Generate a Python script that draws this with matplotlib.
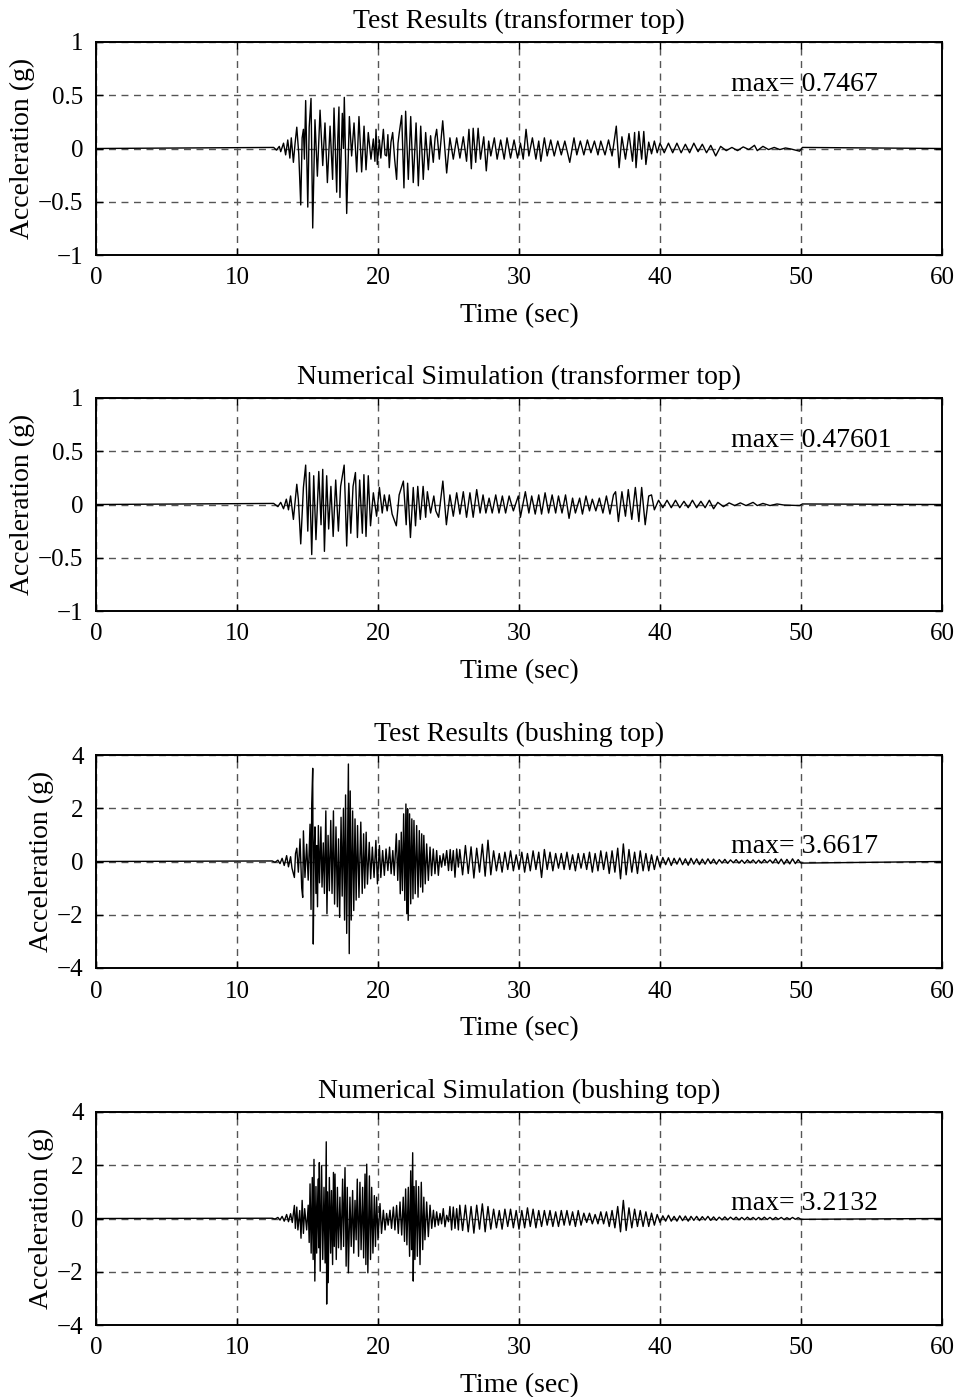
import numpy as np
import matplotlib
matplotlib.use('Agg')
import matplotlib.pyplot as plt

plt.rcParams['font.family'] = ['Liberation Serif', 'DejaVu Serif']

# ---- panel titles, peak labels, axis limits ----
titles = ['Test Results (transformer top)',
          'Numerical Simulation (transformer top)',
          'Test Results (bushing top)',
          'Numerical Simulation (bushing top)']
max_labels = ['max= 0.7467', 'max= 0.47601', 'max= 3.6617', 'max= 3.2132']
max_label_y = [0.6, 0.6, 0.56, 0.56]
y_limits = [(-1, 1), (-1, 1), (-4, 4), (-4, 4)]
y_ticks = [[-1, -0.5, 0, 0.5, 1], [-1, -0.5, 0, 0.5, 1],
           [-4, -2, 0, 2, 4], [-4, -2, 0, 2, 4]]
y_ticklabels = [['\u22121', '\u22120.5', '0', '0.5', '1'],
                ['\u22121', '\u22120.5', '0', '0.5', '1'],
                ['\u22124', '\u22122', '0', '2', '4'],
                ['\u22124', '\u22122', '0', '2', '4']]
x_ticks = [0, 10, 20, 30, 40, 50, 60]

# ---- transformer top, test: peak times (s) and accelerations (g) ----
tt_test_t = [12.6, 12.8, 13.0, 13.1, 13.3, 13.45, 13.6, 13.75, 13.85, 14.0, 14.12, 14.24, 14.38, 14.52,
             14.62, 14.71, 14.78, 14.87, 15.02, 15.12, 15.25, 15.37, 15.53, 15.7, 15.89, 16.08, 16.24,
             16.41, 16.6, 16.78, 16.88, 17.07, 17.15, 17.23, 17.3, 17.47, 17.55, 17.61, 17.78, 17.97,
             18.13, 18.3, 18.49, 18.65, 18.84, 19.01, 19.15, 19.31, 19.5, 19.67, 19.78, 19.86, 19.95,
             20.1, 20.2, 20.38, 20.5, 20.61, 20.7, 20.8, 20.92, 21.04, 21.18, 21.32, 21.42, 21.51, 21.68,
             21.84, 21.96, 22.15, 22.32, 22.5, 22.7, 22.86, 23.03, 23.21, 23.38, 23.57, 23.73, 23.92,
             24.05, 24.16, 24.35, 24.45, 24.59, 24.87, 25.1, 25.34, 25.58, 25.81, 26.05, 26.28, 26.45,
             26.62, 26.75, 26.93, 27.1, 27.27, 27.5, 27.68, 27.85, 28.0, 28.25, 28.45, 28.7, 28.95,
             29.15, 29.4, 29.65, 29.9, 30.1, 30.3, 30.5, 30.7, 30.95, 31.2, 31.4, 31.55, 31.8, 32.0,
             32.25, 32.5, 32.75, 33.0, 33.25, 33.6, 33.9, 34.1, 34.35, 34.6, 34.85, 35.1, 35.35, 35.6,
             35.8, 36.1, 36.35, 36.6, 36.9, 37.1, 37.3, 37.55, 37.8, 38.05, 38.2, 38.3, 38.5, 38.7,
             38.85, 39.0, 39.2, 39.4, 39.6, 39.8, 40.0, 40.3, 40.6, 40.9, 41.2, 41.5, 41.8, 42.1, 42.4,
             42.7, 43.0, 43.3, 43.6, 43.95, 44.3, 44.7, 45.1, 45.5, 45.9, 46.3, 46.7, 46.9, 47.3, 47.7,
             48.1, 48.5, 48.9, 49.3, 49.9, 50.1]
tt_test_a = [0.01, -0.015, 0.02, -0.03, 0.05, -0.06, 0.08, -0.09, 0.1, -0.13, 0.05, 0.2, -0.05, -0.53,
             0.1, 0.18, -0.1, 0.45, -0.55, 0.2, 0.47, -0.7467, 0.27, -0.26, 0.36, -0.16, 0.24,
             -0.32, 0.21, -0.29, 0.38, -0.41, 0.1, 0.39, -0.46, 0.33, 0.0, 0.48, -0.61, 0.30,
             -0.07, 0.24, -0.22, 0.30, -0.22, 0.21, -0.2, 0.15, -0.1, 0.09, -0.12, 0.18, -0.15,
             0.08, -0.09, 0.18, -0.06, -0.07, 0.13, -0.18, 0.06, 0.15, -0.1, -0.29, 0.05, 0.15, 0.31,
             -0.37, 0.35, -0.29, 0.30, -0.32, 0.24, -0.35, 0.21, -0.29, 0.15, -0.2, 0.12, -0.13,
             0.1, 0.18, -0.1, 0.05, 0.26, -0.23, 0.1, -0.1, 0.1, -0.09, 0.11, -0.12, 0.18,
             -0.19, 0.19, -0.13, 0.19, -0.1, 0.11, -0.21, 0.07, -0.07, 0.10, -0.1, 0.08, -0.1,
             0.1, -0.09, 0.08, -0.09, 0.05, -0.1, 0.18, -0.07, 0.1, -0.1, 0.07, -0.12, 0.1, -0.07,
             0.08, -0.07, 0.07, -0.06, 0.07, -0.13, 0.1, -0.06, 0.07, -0.06, 0.08, -0.04, 0.07, -0.06,
             0.07, -0.06, 0.08, -0.07, 0.21, -0.18, 0.11, -0.1, 0.14, -0.12, 0.15, -0.18, 0.16, -0.1,
             0.16, -0.15, 0.06, -0.05, 0.07, -0.04, 0.05, -0.04, 0.05, -0.04, 0.05, -0.04, 0.04, -0.04, 0.05,
             -0.03, 0.04, -0.04, 0.03, -0.07, 0.02, -0.02, 0.01, -0.02, 0.015, -0.01, 0.03, -0.02, 0.02, -0.01,
             0.01, -0.01, 0.005, -0.005, -0.025, 0.01]

# ---- transformer top, simulation ----
tt_sim_t = [12.6, 12.9, 13.1, 13.3, 13.5, 13.65, 13.8, 14.0, 14.15, 14.24, 14.35, 14.52, 14.71, 14.87,
            15.02, 15.14, 15.3, 15.44, 15.6, 15.8, 15.96, 16.08, 16.2, 16.36, 16.5, 16.66, 16.82, 17.0,
            17.19, 17.35, 17.6, 17.78, 17.93, 18.07, 18.23, 18.4, 18.54, 18.7, 18.89, 19.0, 19.15,
            19.31, 19.47, 19.67, 19.9, 20.1, 20.3, 20.45, 20.65, 20.8, 21.0, 21.3, 21.5, 21.8, 22.0,
            22.1, 22.3, 22.5, 22.66, 22.82, 23.0, 23.2, 23.38, 23.5, 23.73, 23.96, 24.1, 24.3, 24.6,
            24.85, 25.1, 25.34, 25.58, 25.81, 26.05, 26.28, 26.52, 26.75, 27.0, 27.24, 27.45, 27.65,
            27.88, 28.1, 28.35, 28.58, 28.82, 29.05, 29.3, 29.6, 29.95, 30.1, 30.45, 30.7, 30.9, 31.15,
            31.4, 31.6, 31.85, 32.1, 32.35, 32.6, 32.8, 33.05, 33.3, 33.55, 33.8, 34.0, 34.3, 34.5,
            34.75, 35.0, 35.2, 35.45, 35.7, 35.95, 36.2, 36.45, 36.7, 36.85, 37.05, 37.3, 37.55, 37.75,
            38.0, 38.25, 38.5, 38.7, 38.95, 39.2, 39.4, 39.6, 39.9, 40.2, 40.5, 40.8, 41.1, 41.4, 41.7,
            42.0, 42.3, 42.6, 42.9, 43.2, 43.5, 43.8, 44.1, 44.5, 44.9, 45.3, 45.7, 46.1, 46.6, 46.9,
            47.3, 47.8, 48.3, 48.8, 49.9, 50.1]
tt_sim_a = [0.01, -0.02, 0.02, -0.04, 0.05, -0.05, 0.08, -0.14, 0.06, 0.19, 0.05, -0.37, 0.16, 0.37,
            -0.25, 0.3, -0.47, 0.27, -0.33, 0.31, -0.19, 0.33, -0.44, 0.27, -0.23, 0.17, -0.3, 0.23,
            -0.25, 0.17, 0.37, -0.39, 0.2, -0.27, 0.17, 0.3, -0.31, 0.23, -0.27, 0.28, -0.3,
            0.27, -0.2, 0.11, -0.11, 0.16, -0.08, 0.09, -0.06, 0.09, -0.09, -0.2, 0.09, 0.22, -0.19,
            0.2, -0.31, 0.16, -0.2, 0.17, -0.14, 0.17, -0.12, 0.12, -0.08, 0.08, -0.06, -0.12, 0.22,
            -0.19, 0.09, -0.11, 0.11, -0.09, 0.12, -0.12, 0.11, -0.12, 0.14, -0.08, 0.09, -0.08,
            0.06, -0.08, 0.09, -0.08, 0.08, -0.08, 0.08, -0.06, 0.08, -0.12, 0.12, -0.08, 0.08, -0.09,
            0.09, -0.09, 0.11, -0.08, 0.09, -0.08, 0.08, -0.08, 0.09, -0.13, 0.06, -0.08, 0.06, -0.09,
            0.08, -0.06, 0.05, -0.06, 0.06, -0.08, 0.08, -0.09, 0.09, 0.12, -0.16, 0.12, -0.11, 0.14,
            -0.14, 0.16, -0.16, 0.16, -0.19, 0.08, 0.09, -0.05, 0.04, -0.03, 0.04, -0.03, 0.04, -0.03, 0.03,
            -0.03, 0.04, -0.03, 0.03, -0.03, 0.04, -0.04, 0.02, -0.02, 0.015, -0.01, 0.015, -0.01, 0.02, -0.01,
            0.01, -0.01, 0.005, -0.005, -0.01, 0.005]

# ---- bushing top, test: strong part with peak times, coda every 0.2 s from 25.8 s ----
bt_test_t = [12.5, 12.7, 12.9, 13.05, 13.2, 13.35, 13.52, 13.65, 13.8, 13.9, 14.07, 14.15, 14.24, 14.35,
             14.47, 14.59, 14.66, 14.71, 14.82, 14.94, 15.05, 15.18, 15.25, 15.3, 15.37, 15.41, 15.47,
             15.53, 15.6, 15.65, 15.71, 15.77, 15.85, 15.95, 16.03, 16.12, 16.2, 16.3, 16.38, 16.46,
             16.55, 16.65, 16.74, 16.84, 16.92, 17.02, 17.12, 17.2, 17.28, 17.38, 17.46, 17.55, 17.63,
             17.7, 17.78, 17.9, 17.96, 18.03, 18.1, 18.2, 18.28, 18.37, 18.45, 18.55, 18.65, 18.78,
             18.88, 18.98, 19.06, 19.16, 19.25, 19.38, 19.48, 19.6, 19.72, 19.85, 19.96, 20.1, 20.2,
             20.33, 20.45, 20.57, 20.7, 20.82, 20.93, 21.05, 21.15, 21.3, 21.4, 21.5, 21.58, 21.65,
             21.73, 21.82, 21.9, 21.98, 22.04, 22.1, 22.14, 22.24, 22.32, 22.4, 22.48, 22.55, 22.64,
             22.74, 22.84, 22.93, 23.02, 23.1, 23.17, 23.25, 23.35, 23.45, 23.57, 23.69, 23.8, 23.92,
             24.04, 24.16, 24.28, 24.39, 24.51, 24.63, 24.75, 24.87, 25.0, 25.12, 25.22, 25.34, 25.46,
             25.58, 25.7]
bt_test_a = [0.02, -0.03, 0.05, -0.08, 0.12, -0.15, 0.22, -0.2, 0.18, -0.25, -0.6, 0.3, 0.5, -0.4,
             0.85, -1.0, -1.35, 1.15, -0.6, 0.65, -0.7, 1.4, -1.8, 2.15, 3.5, -3.1, 0.5,
             1.3, -1.2, 0.6, -1.7, 1.35, -0.8, 1.3, -0.96, 0.7, -1.2, 1.9, -1.96, 0.98,
             -1.1, 1.54, -1.2, 1.9, -1.6, 1.3, -1.7, 0.85, -2.1, 1.66, -1.3, 2.0, -2.2,
             2.5, -2.7, 3.6617, -3.46, 2.65, -2.2, 1.9, -1.84, 1.6, -1.45, 1.35, -1.35, 1.48,
             -1.2, 1.04, -1.0, 1.1, -0.85, 0.72, -0.65, 0.54, -0.6, 0.79, -0.84, 0.6, -0.6,
             0.41, -0.52, 0.47, -0.34, 0.54, -0.46, 0.41, -0.52, 1.04, -0.71, 0.79, -1.21, 1.1,
             -1.09, 1.79, -1.46, 2.16, -1.96, 1.98, -2.21, 1.79, -1.59, 1.6, -1.4, 1.54, -1.21,
             1.35, -1.34, 1.16, -0.96, 1.04, -1.15, 0.98, -0.84, 0.66, -0.71, 0.54, -0.53, 0.47,
             -0.46, 0.41, -0.52, 0.22, -0.21, 0.29, -0.15, 0.41, -0.34, 0.45, -0.34, 0.41, -0.59,
             0.47, -0.21]
bt_test_coda_start = 25.8
bt_test_coda_step = 0.2
bt_test_coda = [0.45, -0.5, 0.6, -0.45, 0.55, -0.62, 0.5, -0.4, 0.65, -0.55, 0.8,
                -0.5, 0.4, -0.35, 0.3, -0.4, 0.35, -0.3, 0.4, -0.35, 0.25, -0.3, 0.35, -0.4, 0.3,
                -0.35, 0.4, -0.3, 0.35, -0.6,
                0.45, -0.3, 0.35, -0.35, 0.3, -0.25, 0.3, -0.3, 0.35, -0.3, 0.25, -0.35, 0.3, -0.25, 0.3,
                -0.3, 0.35, -0.4, 0.3, -0.35, 0.4, -0.3, 0.35, -0.45, 0.4, -0.4, 0.5,
                -0.65, 0.66, -0.5,
                0.45, -0.4, 0.35, -0.45, 0.4, -0.35, 0.3, -0.35, 0.25, -0.3, 0.2, -0.2,
                0.15, -0.12, 0.14, -0.15, 0.12, -0.1, 0.13, -0.12, 0.1, -0.14, 0.12, -0.1, 0.1, -0.12,
                0.09, -0.1, 0.1, -0.08, 0.09, -0.1,
                0.07, -0.06, 0.08, -0.07, 0.06, -0.05, 0.07, -0.06, 0.05, -0.07, 0.06, -0.05, 0.06,
                -0.07, 0.05, -0.06, 0.07, -0.05, 0.06, -0.06,
                0.1, -0.08, 0.09, -0.1, 0.08, -0.09, 0.1, -0.08, 0.07, -0.06]

# ---- bushing top, simulation ----
bt_sim_t = [12.5, 12.7, 12.9, 13.05, 13.2, 13.35, 13.52, 13.65, 13.8, 13.92, 14.07, 14.14, 14.24, 14.32,
            14.45, 14.54, 14.62, 14.71, 14.8, 14.94, 15.05, 15.12, 15.18, 15.26, 15.34, 15.4, 15.46,
            15.52, 15.6, 15.65, 15.75, 15.8, 15.84, 15.9, 16.0, 16.08, 16.17, 16.25, 16.33, 16.36,
            16.42, 16.47, 16.55, 16.64, 16.7, 16.78, 16.84, 16.9, 16.95, 17.04, 17.12, 17.2, 17.3,
            17.38, 17.49, 17.56, 17.66, 17.74, 17.82, 17.9, 18.01, 18.1, 18.2, 18.28, 18.37, 18.45,
            18.53, 18.62, 18.72, 18.8, 18.91, 18.98, 19.08, 19.14, 19.2, 19.28, 19.39, 19.47, 19.55,
            19.64, 19.74, 19.82, 19.9, 20.0, 20.14, 20.25, 20.38, 20.5, 20.61, 20.72, 20.85, 20.96,
            21.09, 21.2, 21.32, 21.44, 21.56, 21.68, 21.79, 21.88, 21.96, 22.05, 22.15, 22.24, 22.32,
            22.38, 22.46, 22.5, 22.56, 22.62, 22.7, 22.79, 22.88, 22.98, 23.07, 23.17, 23.25, 23.33,
            23.45, 23.57, 23.69, 23.81, 23.93, 24.04, 24.16, 24.28, 24.4, 24.51, 24.63, 24.75, 24.87,
            25.0, 25.1, 25.22, 25.34, 25.46, 25.58, 25.7]
bt_sim_a = [0.01, -0.02, 0.04, -0.06, 0.08, -0.1, 0.15, -0.12, 0.18, -0.15, 0.49, -0.37, 0.43, -0.43,
            0.3, -0.74, 0.68, -0.56, 0.37, -0.43, 0.5, -0.9, 1.3, -1.3, 1.54, -1.54, 2.22,
            -2.35, 1.2, -1.3, 1.48, -1.1, 2.1, -1.98, 1.98, -1.54, 1.17, -1.67, 2.88, -3.2132,
            1.0, -2.41, 1.54, -1.3, 1.05, -1.73, 1.73, -1.05, 1.67, -1.54, 1.17, -1.1, 0.8,
            -1.17, 1.48, -1.05, 1.91, -1.79, 1.17, -2.04, 0.8, -1.05, 1.05, -1.3, 0.68, -0.8,
            1.48, -1.42, 1.36, -1.17, 1.17, -1.48, 1.67, -1.73, 2.04, -2.04, 1.6, -1.54, 1.17,
            -1.3, 0.86, -1.05, 0.8, -0.8, 0.56, -0.56, 0.31, -0.43, 0.19, -0.25, 0.31, -0.37,
            0.43, -0.43, 0.49, -0.56, 0.62, -0.62, 0.8, -0.86, 1.11, -0.99, 1.17, -1.42, 1.79,
            -1.17, 2.47, -2.35, 1.2, -1.54, 1.42, -1.42, 1.2, -1.73, 1.36, -1.17, 0.8, -0.8,
            0.62, -0.68, 0.5, -0.37, 0.31, -0.31, 0.25, -0.25, 0.19, -0.2, 0.37, -0.31, 0.12,
            -0.12, 0.45, -0.43, 0.43, -0.37, 0.37, -0.43]
bt_sim_coda_start = 25.8
bt_sim_coda_step = 0.2
bt_sim_coda = [0.5, -0.45, 0.5, -0.5, 0.45, -0.55, 0.5, -0.4, 0.55, -0.5, 0.45,
               -0.4, 0.35, -0.35, 0.3, -0.4, 0.35, -0.3, 0.35, -0.35, 0.3, -0.4, 0.3, -0.35, 0.4,
               -0.3, 0.35, -0.35, 0.3, -0.3,
               0.3, -0.25, 0.3, -0.3, 0.25, -0.3, 0.3, -0.25, 0.3, -0.25, 0.25, -0.3, 0.3, -0.25, 0.2,
               -0.15, 0.2, -0.2, 0.15, -0.2, 0.25, -0.2, 0.25, -0.3, 0.3, -0.35, 0.45,
               -0.5, 0.68, -0.45,
               0.4, -0.35, 0.35, -0.3, 0.3, -0.3, 0.25, -0.3, 0.2, -0.25, 0.15, -0.15,
               0.1, -0.1, 0.12, -0.1, 0.08, -0.1, 0.1, -0.08, 0.09, -0.1, 0.08, -0.07, 0.08, -0.08,
               0.07, -0.06, 0.08, -0.07, 0.06, -0.07,
               0.05, -0.05, 0.06, -0.05, 0.05, -0.04, 0.05, -0.05, 0.04, -0.05, 0.05, -0.04, 0.04,
               -0.05, 0.04, -0.04, 0.05, -0.04, 0.04, -0.04,
               0.04, -0.03, 0.04, -0.04, 0.03, -0.03, 0.04, -0.03, 0.03, -0.03]


def trace(t, a, coda_start=None, coda_step=None, coda=None):
    tt = [0.0] + list(t)
    aa = [0.0] + list(a)
    if coda is not None:
        tt += list(coda_start + coda_step * np.arange(len(coda)))
        aa += list(coda)
    tt.append(60.0)
    aa.append(0.0)
    return np.array(tt), np.array(aa)


series = [trace(tt_test_t, tt_test_a),
          trace(tt_sim_t, tt_sim_a),
          trace(bt_test_t, bt_test_a, bt_test_coda_start, bt_test_coda_step, bt_test_coda),
          trace(bt_sim_t, bt_sim_a, bt_sim_coda_start, bt_sim_coda_step, bt_sim_coda)]

fig = plt.figure(figsize=(9.63, 13.97), dpi=100)
W, H = 963.0, 1397.0
tops = [42, 398, 755, 1112]
fs_tick = 18
fs_lab = 20

for i in range(4):
    top = tops[i]
    ax = fig.add_axes([96 / W, 1 - (top + 213) / H, 846 / W, 213 / H])
    t, a = series[i]
    ax.plot(t, a, color='black', lw=1.0)
    ax.set_xlim(0, 60)
    ax.set_ylim(*y_limits[i])
    ax.set_xticks(x_ticks)
    ax.set_yticks(y_ticks[i])
    ax.set_yticklabels(y_ticklabels[i])
    ax.grid(True, color='#555555', linestyle=(0, (5, 4)), lw=1.0)
    ax.tick_params(direction='in', length=5, width=1, top=True, right=True,
                   labelsize=fs_tick, pad=9)
    for s in ax.spines.values():
        s.set_linewidth(1.4)
    ax.set_title(titles[i], fontsize=fs_lab, pad=10)
    ax.set_xlabel('Time (sec)', fontsize=fs_lab, labelpad=10)
    ax.set_ylabel('Acceleration (g)', fontsize=fs_lab, labelpad=2)
    ax.text(45, max_label_y[i], max_labels[i], fontsize=fs_lab, va='center', ha='left')

fig.savefig('out.png', dpi=100)
